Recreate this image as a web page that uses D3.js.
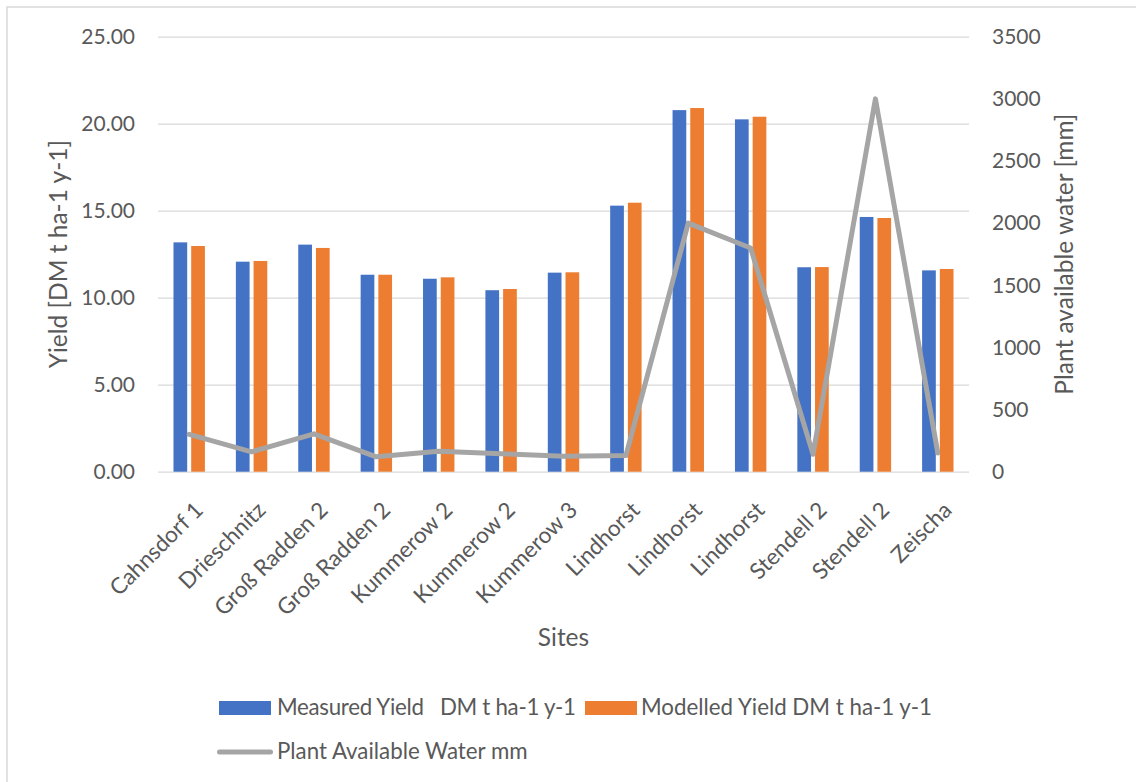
<!DOCTYPE html>
<html>
<head>
<meta charset="utf-8">
<script src="https://cdn.jsdelivr.net/npm/d3@7"></script>
<style>
  html, body { margin: 0; padding: 0; background: #fff; }
  svg text { font-family: "Lato", "Liberation Sans", sans-serif; fill: #595959; white-space: pre; }
</style>
</head>
<body>
<svg id="chart" width="1136" height="782"></svg>
<script>
// ---- data ----
const categories = ["Cahnsdorf 1", "Drieschnitz", "Groß Radden 2", "Groß Radden 2", "Kummerow 2", "Kummerow 2", "Kummerow 3", "Lindhorst", "Lindhorst", "Lindhorst", "Stendell 2", "Stendell 2", "Zeischa"];
const measuredYield = [13.18, 12.07, 13.05, 11.32, 11.09, 10.43, 11.44, 15.29, 20.78, 20.25, 11.75, 14.64, 11.57];
const modelledYield = [12.97, 12.11, 12.86, 11.32, 11.17, 10.50, 11.46, 15.46, 20.90, 20.40, 11.76, 14.58, 11.65];
const plantAvailableWater = [300, 160, 305, 120, 165, 145, 125, 130, 2000, 1800, 140, 3000, 150];
const yieldTicks = [0, 5, 10, 15, 20, 25];
const waterTicks = [0, 500, 1000, 1500, 2000, 2500, 3000, 3500];
const seriesNames = ["Measured Yield   DM t ha-1 y-1", "Modelled Yield DM t ha-1 y-1", "Plant Available Water mm"];
const seriesColors = ["#4472C4", "#ED7D31", "#A5A5A5"];
const xTitle = "Sites";
const yTitle = "Yield [DM t ha-1 y-1]";
const y2Title = "Plant available water [mm]";

// ---- layout ----
const svg = d3.select("#chart");
const plot = { left: 158, right: 969, top: 36.7, bottom: 471.7 };
const idx = d3.range(categories.length);

// chart border
svg.append("rect").attr("x", 7).attr("y", 7).attr("width", 1150).attr("height", 800)
  .attr("fill", "none").attr("stroke", "#D9D9D9").attr("stroke-width", 1.5);

const x = d3.scaleBand().domain(idx).range([plot.left, plot.right]).paddingInner(0.4966).paddingOuter(0.2483);
const x1 = d3.scaleBand().domain([0, 1]).range([0, x.bandwidth()]).paddingInner(0.226);
const y = d3.scaleLinear().domain([0, 25]).range([plot.bottom, plot.top]);
const y2 = d3.scaleLinear().domain([0, 3500]).range([plot.bottom, plot.top]);

// gridlines
const grid = svg.append("g").attr("transform", `translate(${plot.left},0)`)
  .call(d3.axisLeft(y).tickValues(yieldTicks).tickSize(-(plot.right - plot.left)).tickFormat(""));
grid.select(".domain").remove();
grid.selectAll("line").attr("stroke", "#D9D9D9").attr("stroke-width", 1.3);

// left axis
const yAxis = svg.append("g").attr("transform", `translate(${plot.left},0)`)
  .call(d3.axisLeft(y).tickValues(yieldTicks).tickFormat(d3.format(".2f")).tickSize(0).tickPadding(23));
yAxis.select(".domain").remove();
yAxis.selectAll("text").attr("font-size", 21).attr("fill", "#595959").style("font-family", "Lato");

// right axis
const y2Axis = svg.append("g").attr("transform", `translate(${plot.right},0)`)
  .call(d3.axisRight(y2).tickValues(waterTicks).tickFormat(d3.format("d")).tickSize(0).tickPadding(23));
y2Axis.select(".domain").remove();
y2Axis.selectAll("text").attr("font-size", 21).attr("fill", "#595959").style("font-family", "Lato");

// x axis
const xAxis = svg.append("g").attr("transform", `translate(0,${plot.bottom})`)
  .call(d3.axisBottom(x).tickFormat(i => categories[i]).tickSize(0));
xAxis.select(".domain").remove();
xAxis.selectAll("text")
  .attr("font-size", 22.5).attr("fill", "#595959").style("font-family", "Lato")
  .attr("text-anchor", "end").attr("x", 0).attr("y", 0).attr("dy", 0)
  .attr("transform", "translate(15.3,39.8) rotate(-45)");

// bars
const bars = svg.append("g");
const seriesData = [measuredYield, modelledYield];
seriesData.forEach((vals, s) => {
  bars.selectAll(null).data(idx).join("rect")
    .attr("x", i => x(i) + x1(s))
    .attr("y", i => y(vals[i]))
    .attr("width", x1.bandwidth())
    .attr("height", i => y(0) - y(vals[i]))
    .attr("fill", seriesColors[s]);
});

// line
const line = d3.line().x(i => x(i) + x.bandwidth() / 2).y(i => y2(plantAvailableWater[i]));
svg.append("path").datum(idx).attr("d", line)
  .attr("fill", "none").attr("stroke", seriesColors[2]).attr("stroke-width", 5)
  .attr("stroke-linejoin", "round").attr("stroke-linecap", "round");

// axis titles
svg.append("text").attr("transform", `translate(66.5,${(plot.top + plot.bottom) / 2}) rotate(-90)`)
  .attr("text-anchor", "middle").attr("font-size", 24.5).text(yTitle);
svg.append("text").attr("transform", `translate(1073,${(plot.top + plot.bottom) / 2}) rotate(-90)`)
  .attr("text-anchor", "middle").attr("font-size", 24.5).text(y2Title);
svg.append("text").attr("x", (plot.left + plot.right) / 2).attr("y", 645.5)
  .attr("text-anchor", "middle").attr("font-size", 24.5).text(xTitle);

// legend
const lg = svg.append("g");
const fsL = 22.3;
lg.append("rect").attr("x", 219).attr("y", 701).attr("width", 52).attr("height", 14).attr("fill", seriesColors[0]);
lg.append("text").attr("x", 277).attr("y", 714.5).attr("font-size", fsL)
  .attr("textLength", 299).attr("lengthAdjust", "spacing").text(seriesNames[0]);
lg.append("rect").attr("x", 585).attr("y", 701).attr("width", 52).attr("height", 14).attr("fill", seriesColors[1]);
lg.append("text").attr("x", 641).attr("y", 714.5).attr("font-size", fsL).text(seriesNames[1]);
lg.append("line").attr("x1", 219.5).attr("x2", 270.5).attr("y1", 752).attr("y2", 752)
  .attr("stroke", seriesColors[2]).attr("stroke-width", 5).attr("stroke-linecap", "round");
lg.append("text").attr("x", 277).attr("y", 759).attr("font-size", fsL).text(seriesNames[2]);
</script>
</body>
</html>
